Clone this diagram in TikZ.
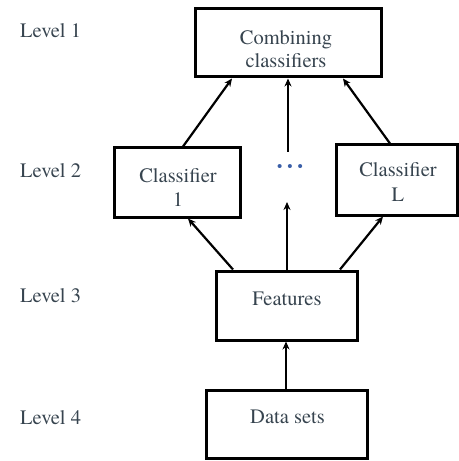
\documentclass[tikz,border=0pt]{standalone}
\usepackage{fontspec}
\setmainfont{texgyretermes}[Extension=.otf, UprightFont=*-regular, BoldFont=*-bold, ItalicFont=*-italic, BoldItalicFont=*-bolditalic]
\usetikzlibrary{arrows.meta}
\definecolor{txtgray}{HTML}{37444F}
\definecolor{dotblue}{HTML}{3A5FA8}
\tikzset{
  box/.style={draw=black, line width=3bp, fill=white, inner sep=0pt},
  lbl/.style={text=txtgray, font=\fontsize{20.5bp}{24bp}\selectfont, inner sep=0pt, anchor=base},
  lvl/.style={text=txtgray, font=\fontsize{20.5bp}{24bp}\selectfont, inner sep=0pt, anchor=base west},
  arr/.style={draw=black, line width=2.2bp, -{Stealth[length=8bp,width=7bp]}}
}
\begin{document}
\begin{tikzpicture}[x=1bp,y=-1bp]
\useasboundingbox (0,0) rectangle (459,461);
% boxes
\node[box, minimum width=186bp, minimum height=68bp] (comb) at (288.5,43) {};
\node[box, minimum width=126bp, minimum height=69bp] (c1) at (177,182.5) {};
\node[box, minimum width=121bp, minimum height=70bp] (cL) at (396.5,180) {};
\node[box, minimum width=141bp, minimum height=69bp] (feat) at (286.5,305.5) {};
\node[box, minimum width=161bp, minimum height=68bp] (data) at (287,424) {};
% box texts
\node[lbl] (combA) at (286,45) {Combining};
\node[lbl] (combB) at (286,68) {classifiers};
\node[lbl] (c1A) at (178,183) {Classifier};
\node[lbl] (c1B) at (178,207) {1};
\node[lbl] (cLA) at (398,177) {Classifier};
\node[lbl] (cLB) at (398,202) {L};
\node[lbl] (featT) at (287,305) {Features};
\node[lbl] (dataT) at (287.5,423) {Data sets};
% level labels
\node[lvl] (l1) at (20,38) {Level 1};
\node[lvl] (l2) at (20,178) {Level 2};
\node[lvl] (l3) at (20,302) {Level 3};
\node[lvl] (l4) at (20,424) {Level 4};
% dots
\node[text=dotblue, inner sep=0pt, font=\fontsize{15bp}{15bp}\selectfont] (dots) at (290,168) {\textbullet\hspace{5bp}\textbullet\hspace{5bp}\textbullet};
% free ends
\coordinate (m1) at (288,152);
\coordinate (m2) at (287,202);
% arrows level 2 -> level 1
\draw[arr] (183,0 |- c1.north) -- (232,0 |- comb.south);
\draw[arr] (m1) -- (m1 |- comb.south);
\draw[arr] (390,0 |- cL.north) -- (343,0 |- comb.south);
% arrows level 3 -> level 2
\draw[arr] (233,0 |- feat.north) -- (188,0 |- c1.south);
\draw[arr] (m2 |- feat.north) -- (m2);
\draw[arr] (340,0 |- feat.north) -- (383,0 |- cL.south);
% arrow level 4 -> level 3
\draw[arr] (286,0 |- data.north) -- (286,0 |- feat.south);
\end{tikzpicture}
\end{document}
